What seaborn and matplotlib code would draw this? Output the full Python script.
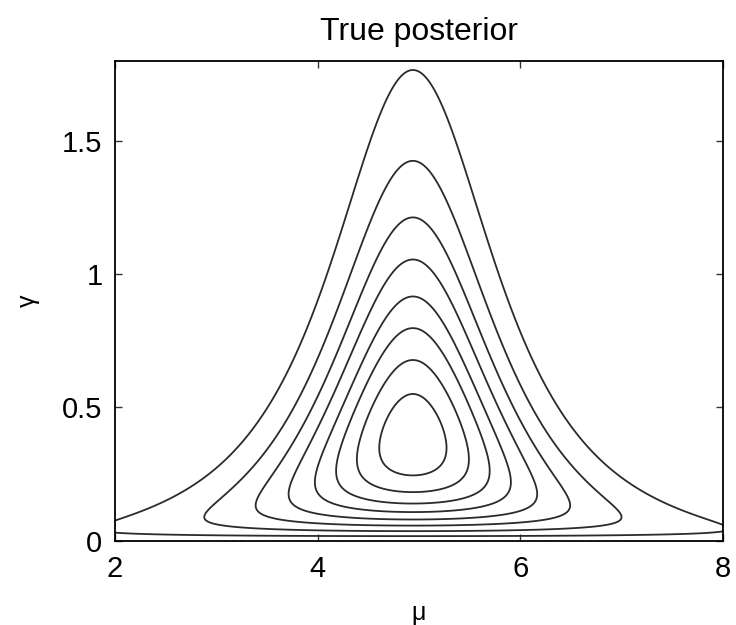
import numpy as np
import matplotlib
matplotlib.use('Agg')
import matplotlib.pyplot as plt
import seaborn as sns

# Normal-gamma posterior over (mu, gamma), parameters
mu_mean = 4.94      # centre of the contours
lam = 4.07          # precision scaling of mu
a_shape = 1.5       # gamma shape
b_rate = 2.65       # gamma rate

# contour levels as fractions of the peak density (outer -> inner)
level_fracs = [0.118, 0.235, 0.351, 0.464, 0.582, 0.694, 0.810, 0.922]

x_limits = [2, 8]
y_limits = [0, 1.8]
x_ticks = [2, 4, 6, 8]
y_ticks = [0, 0.5, 1, 1.5]
y_tick_labels = ['0', '0.5', '1', '1.5']

sns.set_theme(style='white')
plt.rcParams['font.family'] = ['Liberation Sans', 'DejaVu Sans']

# evaluate the density on a grid
mu = np.linspace(x_limits[0], x_limits[1], 700)
gam = np.linspace(y_limits[0], y_limits[1], 700)
M, G = np.meshgrid(mu, gam)
dens = G ** (a_shape - 0.5) * np.exp(-b_rate * G - lam * G * (M - mu_mean) ** 2 / 2)
levels = [f * dens.max() for f in level_fracs]

fig = plt.figure(figsize=(7.36, 6.25), dpi=100)
ax = fig.add_axes([0.1562, 0.1349, 0.8261, 0.7675])

ax.contour(M, G, dens, levels=levels, colors='#2b2b2b', linewidths=1.3)

ax.set_xlim(x_limits)
ax.set_ylim(y_limits)
ax.set_xticks(x_ticks)
ax.set_yticks(y_ticks)
ax.set_yticklabels(y_tick_labels)

for sp in ax.spines.values():
    sp.set_visible(True)
    sp.set_color('black')
    sp.set_linewidth(1.3)

ax.tick_params(direction='in', length=5, width=1, color='#333333',
               top=True, right=True, bottom=True, left=True,
               labelsize=21, labelcolor='black')
ax.tick_params(axis='x', pad=10)
ax.tick_params(axis='y', pad=9)

ax.set_title('True posterior', fontsize=23, pad=15, color='black')
ax.set_xlabel('\u03bc', fontsize=18, labelpad=13, color='black')
ax.set_ylabel('\u03b3', fontsize=18, labelpad=16, color='black')

fig.savefig('out.png', dpi=100, facecolor='white')
